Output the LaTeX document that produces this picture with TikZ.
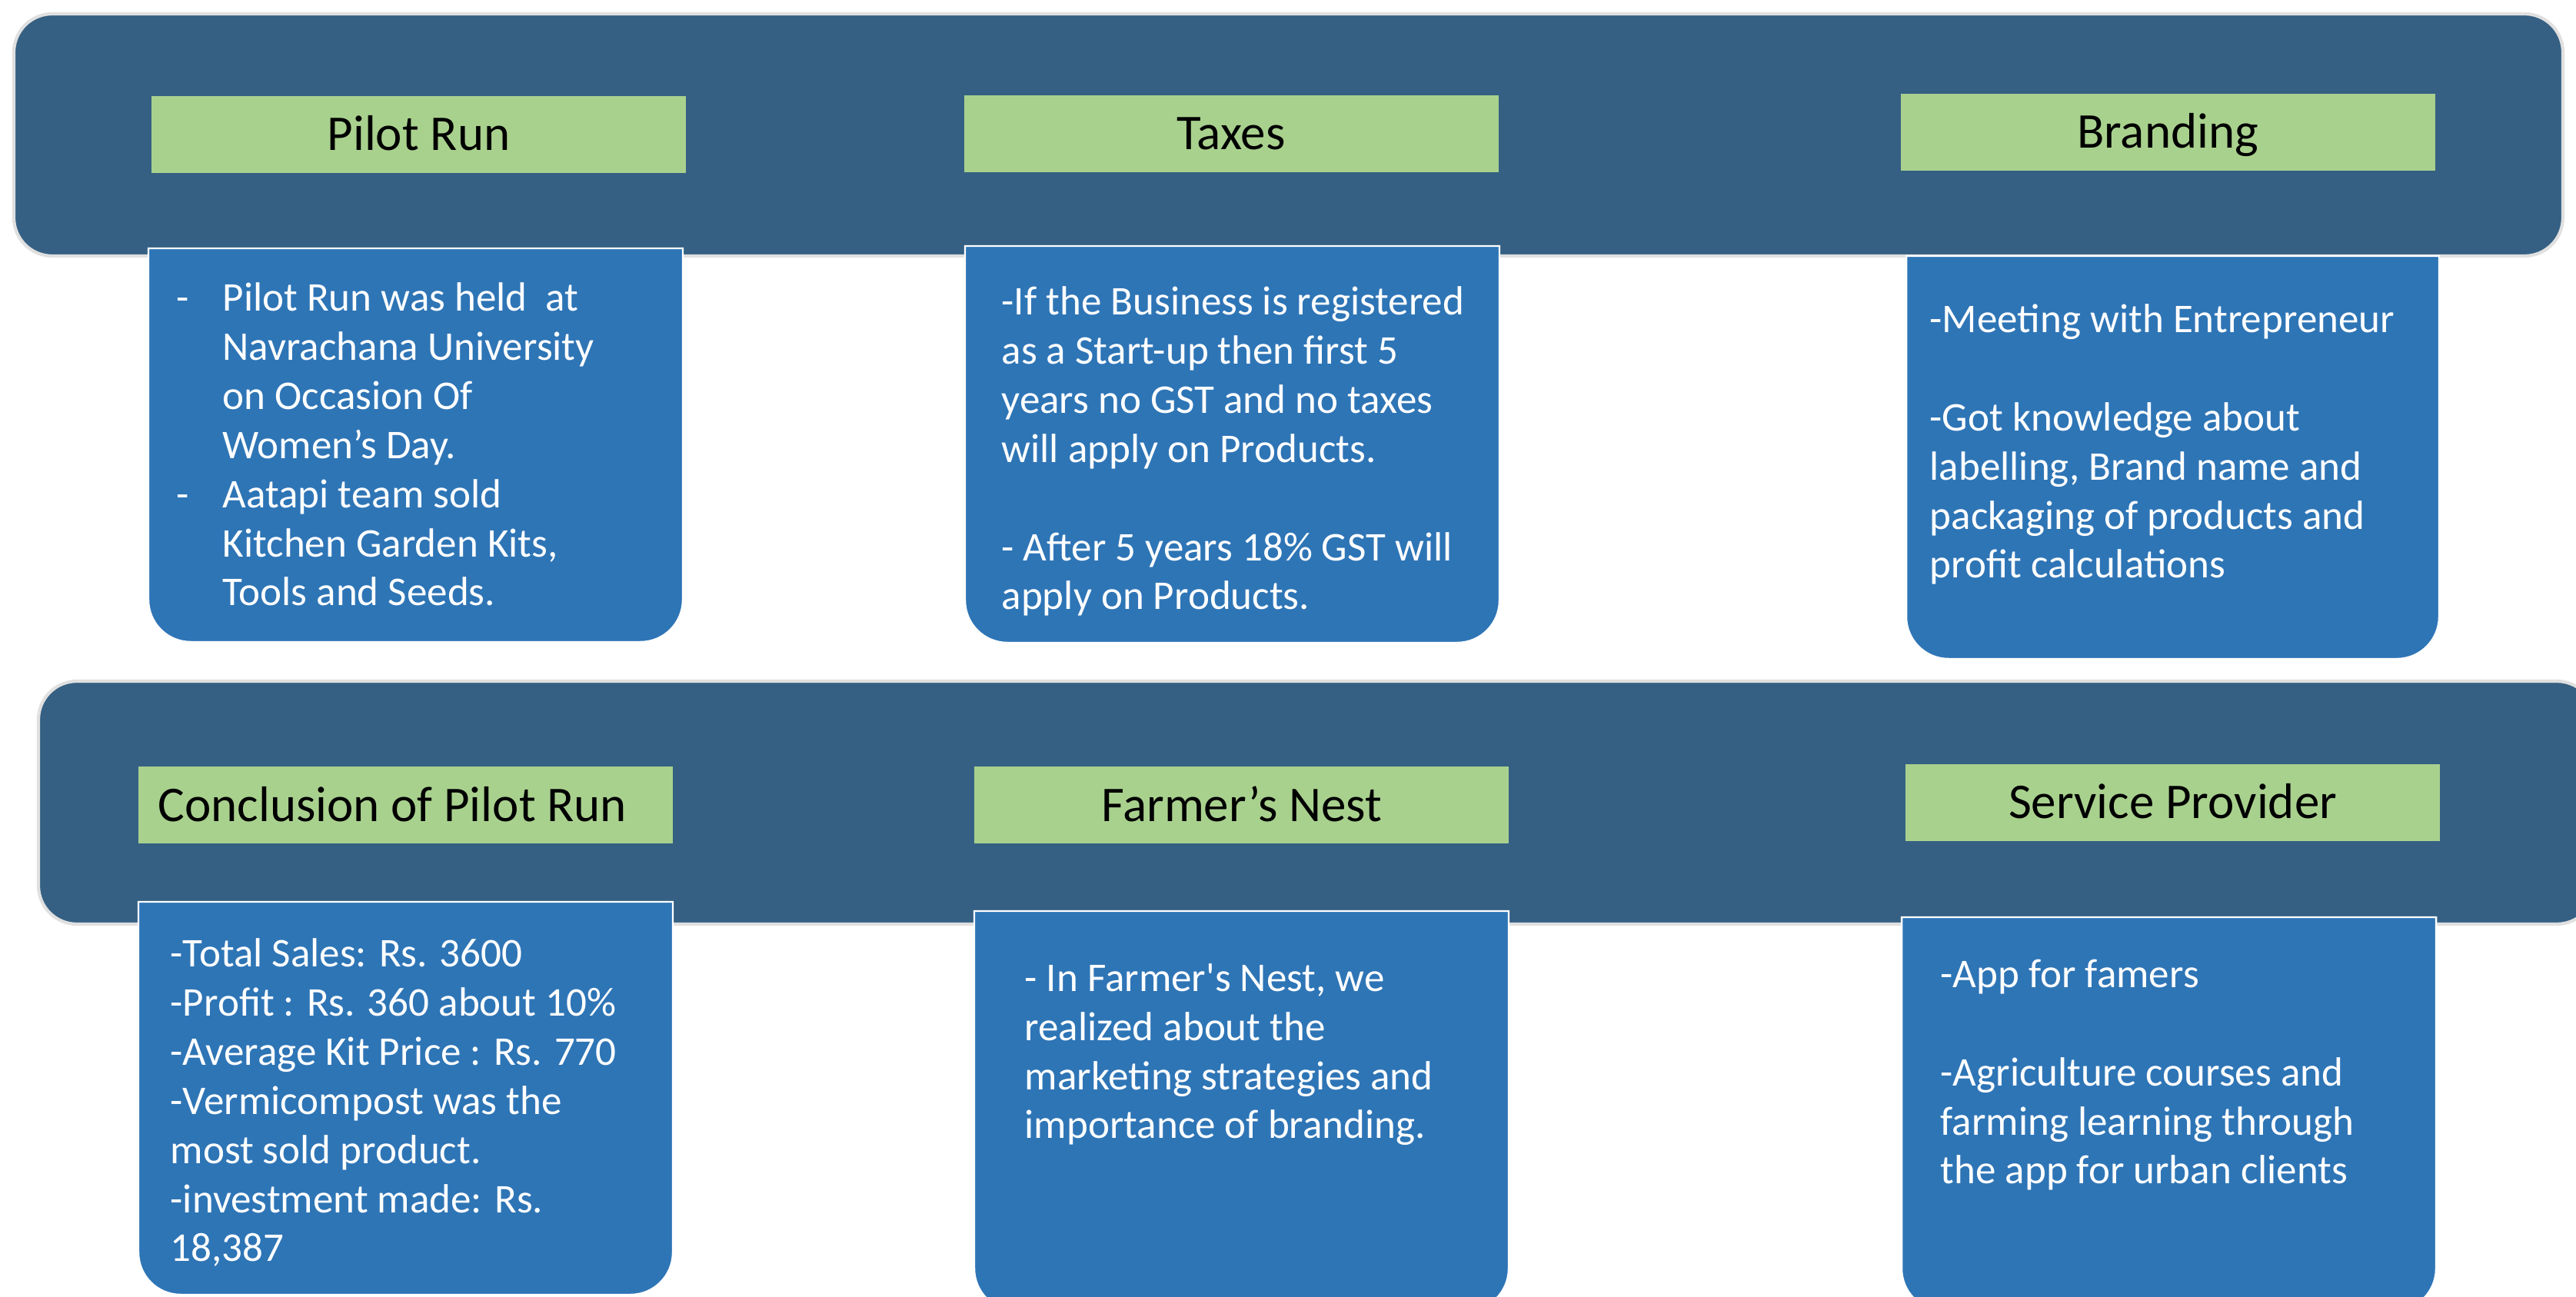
\documentclass[tikz,border=0pt]{standalone}
\usepackage{fontspec}
\setmainfont{Carlito}[Ligatures=TeXOff]

\definecolor{bannerblue}{RGB}{53,96,131}
\definecolor{boxblue}{RGB}{46,117,182}
\definecolor{headgreen}{RGB}{169,209,142}

% blue card, square on top and rounded at the bottom: left, right, top, bottom
\newcommand{\infobox}[4]{%
  \filldraw[fill=boxblue, draw=white, line width=0.7pt]
    (#1,#3) -- (#1,#4+0.55) arc[start angle=180, end angle=270, radius=0.55]
    -- (#2-0.55,#4) arc[start angle=270, end angle=360, radius=0.55]
    -- (#2,#3) -- cycle;
}
\newcommand{\itemdash}{\makebox[0.60cm][l]{-}}
\newcommand{\itemgap}{\hspace*{0.60cm}}

\begin{document}
\begin{tikzpicture}[
  banner/.style={fill=bannerblue, draw=black!12, line width=1.2pt, rounded corners=0.5cm},
  heading/.style={fill=headgreen, minimum width=6.95cm, minimum height=1.0cm, inner sep=0pt,
    text height=0.42cm, text depth=0pt, font=\fontsize{18.5}{22}\selectfont},
  note/.style={anchor=base west, align=left, inner sep=0pt, text=white,
    font=\fontsize{15.1}{18.2}\selectfont}]
  \useasboundingbox (0,0) rectangle (33.5,-16.87);

  \draw[banner] (0.18,-0.18) rectangle (33.33,-3.33);
  \draw[banner] (0.50,-8.86) rectangle (33.75,-12.02);

  \node[heading] (pilot) at (5.445,-1.75) {Pilot Run};
  \node[heading] (taxes) at (16.01,-1.74) {Taxes};
  \node[heading] (brand) at (28.19,-1.72) {Branding};
  \node[heading] (concl) at (5.275,-10.475) {Conclusion of Pilot Run\hspace*{0.34cm}};
  \node[heading] (nest) at (16.145,-10.475) {Farmer’s Nest};
  \node[heading] (service) at (28.255,-10.44) {Service Provider};

  \infobox{1.93}{8.88}{-3.23}{-8.35}
  \infobox{12.55}{19.50}{-3.20}{-8.36}
  \infobox{24.79}{31.72}{-3.33}{-8.57}
  \infobox{1.80}{8.75}{-11.73}{-16.84}
  \infobox{12.67}{19.62}{-11.85}{-17.05}
  \infobox{24.73}{31.68}{-11.93}{-17.05}

  % notes sit on the baseline of their last line
  \node[note] (pilottext) at (2.29,-7.88) {\itemdash Pilot Run was held~ at\\
    \itemgap Navrachana University\\ \itemgap on Occasion Of\\ \itemgap Women’s Day.\\
    \itemdash Aatapi team sold\\ \itemgap Kitchen Garden Kits,\\ \itemgap Tools and Seeds.};
  \node[note] (taxtext) at (13.02,-7.93) {-If the Business is registered\\
    as a Start-up then first 5\\ years no GST and no taxes\\ will apply on Products.\\[0.64cm]
    - After 5 years 18\% GST will\\ apply on Products.};
  \node[note] (brandtext) at (25.09,-7.52) {-Meeting with Entrepreneur\\[0.64cm]
    -Got knowledge about\\ labelling, Brand name and\\ packaging of products and\\ profit calculations};
  \node[note] (concltext) at (2.21,-16.41) {-Total Sales: Rs. 3600\\ -Profit : Rs. 360 about 10\%\\
    -Average Kit Price : Rs. 770\\ -Vermicompost was the\\ most sold product.\\
    -investment made: Rs.\\ 18,387};
  \node[note] (nesttext) at (13.32,-14.81) {- In Farmer's Nest, we\\ realized about the\\
    marketing strategies and\\ importance of branding.};
  \node[note] (servicetext) at (25.23,-15.40) {-App for famers\\[0.64cm]
    -Agriculture courses and\\ farming learning through\\ the app for urban clients};
\end{tikzpicture}
\end{document}
